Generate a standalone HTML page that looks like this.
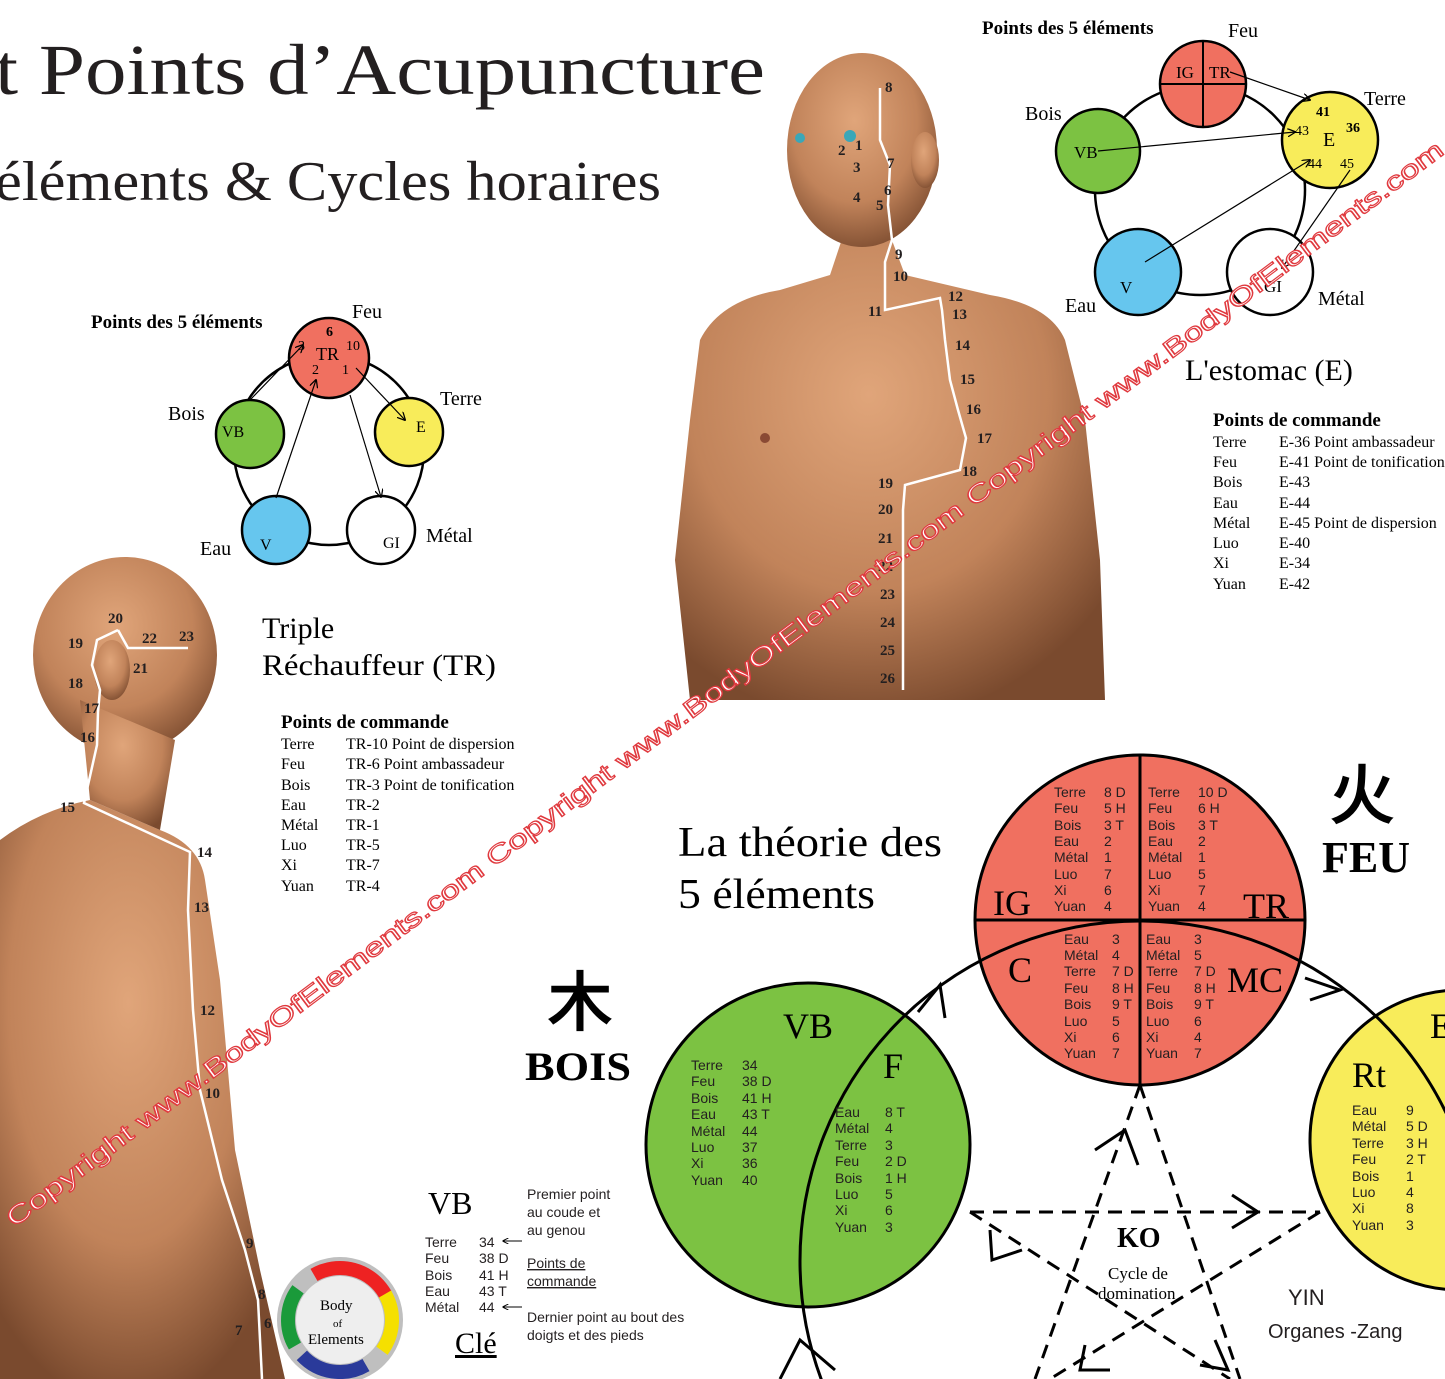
<!DOCTYPE html>
<html><head><meta charset="utf-8"><style>
html,body{margin:0;background:#fff;overflow:hidden;width:1445px;height:1379px}
svg{display:block}
.s{font-family:"Liberation Serif",serif}
.a{font-family:"Liberation Sans",sans-serif}
</style></head><body>
<svg width="1445" height="1379" viewBox="0 0 1445 1379" xmlns="http://www.w3.org/2000/svg">
<defs>
<radialGradient id="skin" cx="45%" cy="35%" r="70%"><stop offset="0" stop-color="#e0a57a"/><stop offset="0.6" stop-color="#c1835a"/><stop offset="1" stop-color="#7a4a2e"/></radialGradient>
<marker id="ar" viewBox="0 0 10 10" refX="9" refY="5" markerWidth="7" markerHeight="7" orient="auto"><path d="M0,0L10,5L0,10" fill="none" stroke="#000" stroke-width="1.5"/></marker>
<marker id="arb" viewBox="0 0 10 10" refX="9" refY="5" markerWidth="6" markerHeight="6" orient="auto"><path d="M0,0L10,5L0,10" fill="none" stroke="#000" stroke-width="1.6"/></marker>
<clipPath id="pg"><rect width="1445" height="1379"/></clipPath>
</defs>
<g clip-path="url(#pg)">
<rect width="1445" height="1379" fill="#fff"/>

<text class="s" x="-5" y="94" font-size="72" fill="#231f20" textLength="770" lengthAdjust="spacingAndGlyphs">t Points d’Acupuncture</text>
<text class="s" x="-5" y="200" font-size="56" fill="#231f20" textLength="666" lengthAdjust="spacingAndGlyphs">éléments &amp; Cycles horaires</text>

<g fill="url(#skin)">
<path d="M690,700 L675,560 L690,420 L700,340 Q720,300 780,290 L830,275 L845,230 L890,235 L905,275 L990,295 Q1050,305 1065,340 L1085,420 L1100,560 L1105,700 Z"/>
<ellipse cx="862" cy="150" rx="75" ry="97"/>
<ellipse cx="925" cy="160" rx="14" ry="28"/>
</g>
<circle cx="765" cy="438" r="5" fill="#8a4a34"/>
<circle cx="850" cy="136" r="6" fill="#3aa7b8"/><circle cx="800" cy="138" r="5" fill="#3aa7b8"/>
<polyline points="880,88 880,140 890,165 888,205 892,240 885,262 885,310 940,298 942,310 945,340 950,380 958,410 966,438 960,470 905,485 903,510 903,690" fill="none" stroke="#fff" stroke-width="2.5"/>
<g class="s" font-size="15" font-weight="bold" fill="#231f20">
<text x="885" y="92">8</text><text x="855" y="150">1</text><text x="838" y="155">2</text><text x="853" y="172">3</text><text x="853" y="202">4</text><text x="876" y="210">5</text><text x="884" y="195">6</text><text x="887" y="168">7</text>
<text x="895" y="259">9</text><text x="893" y="281">10</text><text x="868" y="316">11</text><text x="948" y="301">12</text><text x="952" y="319">13</text><text x="955" y="350">14</text><text x="960" y="384">15</text><text x="966" y="414">16</text><text x="977" y="443">17</text><text x="962" y="476">18</text>
<text x="878" y="488">19</text><text x="878" y="514">20</text><text x="878" y="543">21</text><text x="878" y="571">22</text><text x="880" y="599">23</text><text x="880" y="627">24</text><text x="880" y="655">25</text><text x="880" y="683">26</text>
</g>

<g fill="url(#skin)">
<path d="M0,840 Q40,810 90,800 L160,830 Q200,845 205,880 L220,980 L235,1150 L260,1270 L285,1379 L0,1379 Z"/>
<ellipse cx="125" cy="655" rx="92" ry="98"/>
<path d="M80,700 L90,800 L160,830 L175,740 Z"/>
<ellipse cx="112" cy="670" rx="18" ry="30"/>
</g>
<polyline points="118,630 97,640 92,665 100,690 98,712 97,745 84,803 190,852 188,910 193,1010 200,1090 222,1180 245,1250 258,1300 262,1379" fill="none" stroke="#fff" stroke-width="2.5"/>
<polyline points="118,630 128,648 148,648 188,648" fill="none" stroke="#fff" stroke-width="2.5"/>
<g class="s" font-size="15" font-weight="bold" fill="#231f20">
<text x="108" y="623">20</text><text x="68" y="648">19</text><text x="142" y="643">22</text><text x="179" y="641">23</text><text x="133" y="673">21</text><text x="68" y="688">18</text><text x="84" y="713">17</text><text x="80" y="742">16</text><text x="60" y="812">15</text>
<text x="197" y="857">14</text><text x="194" y="912">13</text><text x="200" y="1015">12</text><text x="205" y="1098">10</text><text x="246" y="1248">9</text><text x="258" y="1299">8</text><text x="235" y="1335">7</text><text x="264" y="1328">6</text>
</g>

<text class="s" x="91" y="328" font-size="19" font-weight="bold">Points des 5 éléments</text>
<circle cx="329" cy="450" r="95" fill="none" stroke="#000" stroke-width="2.5"/>
<g stroke="#000" stroke-width="2.5">
<circle cx="329" cy="358" r="40" fill="#f07060"/>
<circle cx="250" cy="434" r="34" fill="#7cc242"/>
<circle cx="409" cy="432" r="34" fill="#f8ec5a"/>
<circle cx="276" cy="530" r="34" fill="#66c6ee"/>
<circle cx="381" cy="530" r="34" fill="#fff"/>
</g>
<g stroke="#000" stroke-width="1.2" marker-end="url(#ar)">
<line x1="250" y1="400" x2="303" y2="345"/><line x1="356" y1="368" x2="405" y2="420"/><line x1="276" y1="498" x2="316" y2="380"/><line x1="350" y1="395" x2="381" y2="497"/>
</g>
<g class="s" font-size="20"><text x="352" y="318">Feu</text><text x="440" y="405">Terre</text><text x="168" y="420">Bois</text><text x="200" y="555">Eau</text><text x="426" y="542">Métal</text></g>
<g class="s" font-size="16"><text x="316" y="360" font-size="18">TR</text><text x="326" y="336" font-weight="bold" font-size="14">6</text><text x="298" y="350" font-size="14">3</text><text x="346" y="350" font-size="14">10</text><text x="312" y="374" font-size="14">2</text><text x="342" y="374" font-size="14">1</text><text x="222" y="437">VB</text><text x="416" y="432">E</text><text x="260" y="550">V</text><text x="383" y="548">GI</text></g>

<text class="s" x="262" y="638" font-size="30">Triple</text>
<text class="s" x="262" y="675" font-size="30" textLength="234" lengthAdjust="spacingAndGlyphs">Réchauffeur (TR)</text>
<text class="s" x="281" y="728" font-size="19" font-weight="bold">Points de commande</text>
<g class="s" font-size="16">
<text x="281" y="749">Terre</text><text x="346" y="749">TR-10 Point de dispersion</text>
<text x="281" y="769">Feu</text><text x="346" y="769">TR-6   Point ambassadeur</text>
<text x="281" y="790">Bois</text><text x="346" y="790">TR-3   Point de tonification</text>
<text x="281" y="810">Eau</text><text x="346" y="810">TR-2</text>
<text x="281" y="830">Métal</text><text x="346" y="830">TR-1</text>
<text x="281" y="850">Luo</text><text x="346" y="850">TR-5</text>
<text x="281" y="870">Xi</text><text x="346" y="870">TR-7</text>
<text x="281" y="891">Yuan</text><text x="346" y="891">TR-4</text>
</g>

<text class="s" x="982" y="34" font-size="19" font-weight="bold">Points des 5 éléments</text>
<circle cx="1200" cy="190" r="105" fill="none" stroke="#000" stroke-width="2.5"/>
<g stroke="#000" stroke-width="2.5">
<circle cx="1203" cy="84" r="43" fill="#f07060"/>
<circle cx="1098" cy="151" r="42" fill="#7cc242"/>
<circle cx="1330" cy="140" r="48" fill="#f8ec5a"/>
<circle cx="1138" cy="272" r="43" fill="#66c6ee"/>
<circle cx="1270" cy="272" r="43" fill="#fff"/>
</g>
<line x1="1203" y1="41" x2="1203" y2="127" stroke="#000" stroke-width="2"/><line x1="1160" y1="84" x2="1246" y2="84" stroke="#000" stroke-width="2"/>
<g stroke="#000" stroke-width="1.2" marker-end="url(#ar)">
<line x1="1230" y1="72" x2="1310" y2="100"/><line x1="1098" y1="151" x2="1295" y2="132"/><line x1="1145" y1="262" x2="1310" y2="160"/><line x1="1350" y1="170" x2="1282" y2="268"/>
</g>
<g class="s" font-size="20"><text x="1228" y="37">Feu</text><text x="1364" y="105">Terre</text><text x="1025" y="120">Bois</text><text x="1065" y="312">Eau</text><text x="1318" y="305">Métal</text></g>
<g class="s" font-size="17"><text x="1176" y="78">IG</text><text x="1209" y="78">TR</text><text x="1074" y="158">VB</text><text x="1323" y="146" font-size="20">E</text><text x="1316" y="116" font-size="14" font-weight="bold">41</text><text x="1295" y="135" font-size="14">43</text><text x="1346" y="132" font-size="14" font-weight="bold">36</text><text x="1308" y="168" font-size="14">44</text><text x="1340" y="168" font-size="14">45</text><text x="1120" y="293">V</text><text x="1264" y="292">GI</text></g>

<text class="s" x="1185" y="380" font-size="30">L'estomac (E)</text>
<text class="s" x="1213" y="426" font-size="19" font-weight="bold">Points de commande</text>
<g class="s" font-size="16">
<text x="1213" y="447">Terre</text><text x="1279" y="447">E-36 Point ambassadeur</text>
<text x="1213" y="467">Feu</text><text x="1279" y="467">E-41 Point de tonification</text>
<text x="1213" y="487">Bois</text><text x="1279" y="487">E-43</text>
<text x="1213" y="508">Eau</text><text x="1279" y="508">E-44</text>
<text x="1213" y="528">Métal</text><text x="1279" y="528">E-45 Point de dispersion</text>
<text x="1213" y="548">Luo</text><text x="1279" y="548">E-40</text>
<text x="1213" y="568">Xi</text><text x="1279" y="568">E-34</text>
<text x="1213" y="589">Yuan</text><text x="1279" y="589">E-42</text>
</g>

<text class="s" x="678" y="856" font-size="42" textLength="264" lengthAdjust="spacingAndGlyphs">La théorie des</text>
<text class="s" x="678" y="908" font-size="42" textLength="197" lengthAdjust="spacingAndGlyphs">5 éléments</text>
<text class="s" x="1330" y="818" font-size="64" font-weight="bold">火</text>
<text class="s" x="1322" y="872" font-size="44" font-weight="bold">FEU</text>
<text class="s" x="548" y="1025" font-size="64" font-weight="bold">木</text>
<text class="s" x="525" y="1080" font-size="40" font-weight="bold" textLength="106" lengthAdjust="spacingAndGlyphs">BOIS</text>

<g stroke="#000" stroke-width="3">
<circle cx="1140" cy="920" r="165" fill="#f07060"/>
<circle cx="808" cy="1145" r="162" fill="#7cc242"/>
<circle cx="1460" cy="1140" r="150" fill="#f8ec5a"/>
</g>
<line x1="1140" y1="755" x2="1140" y2="1085" stroke="#000" stroke-width="3"/>
<line x1="975" y1="920" x2="1305" y2="920" stroke="#000" stroke-width="3"/>
<circle cx="1140" cy="1261" r="340" fill="none" stroke="#000" stroke-width="3"/>
<g fill="none" stroke="#000" stroke-width="3">
<path d="M918,1012 L940,985 L945,1018"/><path d="M1305,978 L1340,990 L1310,1000"/><path d="M780,1379 L800,1340 L835,1370"/>
</g>
<g stroke="#000" stroke-width="3" stroke-dasharray="14,9" fill="none">
<line x1="970" y1="1212" x2="1320" y2="1212"/>
<line x1="1140" y1="1085" x2="1035" y2="1379"/><line x1="1140" y1="1085" x2="1240" y2="1379"/>
<line x1="970" y1="1212" x2="1230" y2="1379"/><line x1="1320" y1="1212" x2="1050" y2="1379"/>
</g>
<g fill="none" stroke="#000" stroke-width="3"><path d="M1095,1150 L1125,1130 L1138,1165"/><path d="M1232,1195 L1258,1212 L1232,1228"/><path d="M990,1230 L992,1260 L1022,1250"/><path d="M1215,1340 L1228,1370 L1200,1365"/><path d="M1085,1345 L1080,1370 L1110,1370"/></g>
<text class="s" x="1117" y="1247" font-size="28" font-weight="bold">KO</text>
<text class="s" x="1108" y="1279" font-size="17">Cycle de</text>
<text class="s" x="1098" y="1299" font-size="17">domination</text>
<text class="a" x="1288" y="1305" font-size="22" fill="#231f20">YIN</text>
<text class="a" x="1268" y="1338" font-size="20" fill="#231f20">Organes -Zang</text>

<g class="s" font-size="36"><text x="993" y="915">IG</text><text x="1243" y="918">TR</text><text x="1008" y="982">C</text><text x="1227" y="992">MC</text><text x="783" y="1038">VB</text><text x="883" y="1078">F</text><text x="1352" y="1087">Rt</text><text x="1430" y="1038">E</text></g>
<g class="a" font-size="14" fill="#231f20">
<text x="1054" y="797">Terre</text><text x="1104" y="797">8 D</text><text x="1054" y="813">Feu</text><text x="1104" y="813">5 H</text><text x="1054" y="830">Bois</text><text x="1104" y="830">3 T</text><text x="1054" y="846">Eau</text><text x="1104" y="846">2</text><text x="1054" y="862">Métal</text><text x="1104" y="862">1</text><text x="1054" y="879">Luo</text><text x="1104" y="879">7</text><text x="1054" y="895">Xi</text><text x="1104" y="895">6</text><text x="1054" y="911">Yuan</text><text x="1104" y="911">4</text>
<text x="1148" y="797">Terre</text><text x="1198" y="797">10 D</text><text x="1148" y="813">Feu</text><text x="1198" y="813">6  H</text><text x="1148" y="830">Bois</text><text x="1198" y="830">3  T</text><text x="1148" y="846">Eau</text><text x="1198" y="846">2</text><text x="1148" y="862">Métal</text><text x="1198" y="862">1</text><text x="1148" y="879">Luo</text><text x="1198" y="879">5</text><text x="1148" y="895">Xi</text><text x="1198" y="895">7</text><text x="1148" y="911">Yuan</text><text x="1198" y="911">4</text>
<text x="1064" y="944">Eau</text><text x="1112" y="944">3</text><text x="1064" y="960">Métal</text><text x="1112" y="960">4</text><text x="1064" y="976">Terre</text><text x="1112" y="976">7 D</text><text x="1064" y="993">Feu</text><text x="1112" y="993">8 H</text><text x="1064" y="1009">Bois</text><text x="1112" y="1009">9 T</text><text x="1064" y="1026">Luo</text><text x="1112" y="1026">5</text><text x="1064" y="1042">Xi</text><text x="1112" y="1042">6</text><text x="1064" y="1058">Yuan</text><text x="1112" y="1058">7</text>
<text x="1146" y="944">Eau</text><text x="1194" y="944">3</text><text x="1146" y="960">Métal</text><text x="1194" y="960">5</text><text x="1146" y="976">Terre</text><text x="1194" y="976">7 D</text><text x="1146" y="993">Feu</text><text x="1194" y="993">8 H</text><text x="1146" y="1009">Bois</text><text x="1194" y="1009">9 T</text><text x="1146" y="1026">Luo</text><text x="1194" y="1026">6</text><text x="1146" y="1042">Xi</text><text x="1194" y="1042">4</text><text x="1146" y="1058">Yuan</text><text x="1194" y="1058">7</text>
<text x="691" y="1070">Terre</text><text x="742" y="1070">34</text><text x="691" y="1086">Feu</text><text x="742" y="1086">38  D</text><text x="691" y="1103">Bois</text><text x="742" y="1103">41  H</text><text x="691" y="1119">Eau</text><text x="742" y="1119">43  T</text><text x="691" y="1136">Métal</text><text x="742" y="1136">44</text><text x="691" y="1152">Luo</text><text x="742" y="1152">37</text><text x="691" y="1168">Xi</text><text x="742" y="1168">36</text><text x="691" y="1185">Yuan</text><text x="742" y="1185">40</text>
<text x="835" y="1117">Eau</text><text x="885" y="1117">8 T</text><text x="835" y="1133">Métal</text><text x="885" y="1133">4</text><text x="835" y="1150">Terre</text><text x="885" y="1150">3</text><text x="835" y="1166">Feu</text><text x="885" y="1166">2 D</text><text x="835" y="1183">Bois</text><text x="885" y="1183">1 H</text><text x="835" y="1199">Luo</text><text x="885" y="1199">5</text><text x="835" y="1215">Xi</text><text x="885" y="1215">6</text><text x="835" y="1232">Yuan</text><text x="885" y="1232">3</text>
<text x="1352" y="1115">Eau</text><text x="1406" y="1115">9</text><text x="1352" y="1131">Métal</text><text x="1406" y="1131">5 D</text><text x="1352" y="1148">Terre</text><text x="1406" y="1148">3 H</text><text x="1352" y="1164">Feu</text><text x="1406" y="1164">2 T</text><text x="1352" y="1181">Bois</text><text x="1406" y="1181">1</text><text x="1352" y="1197">Luo</text><text x="1406" y="1197">4</text><text x="1352" y="1213">Xi</text><text x="1406" y="1213">8</text><text x="1352" y="1230">Yuan</text><text x="1406" y="1230">3</text>
</g>

<text class="s" x="428" y="1214" font-size="32">VB</text>
<g class="a" font-size="14" fill="#231f20">
<text x="425" y="1247">Terre</text><text x="479" y="1247">34</text>
<text x="425" y="1263">Feu</text><text x="479" y="1263">38  D</text>
<text x="425" y="1280">Bois</text><text x="479" y="1280">41  H</text>
<text x="425" y="1296">Eau</text><text x="479" y="1296">43  T</text>
<text x="425" y="1312">Métal</text><text x="479" y="1312">44</text>
<text x="527" y="1199">Premier point</text><text x="527" y="1217">au coude et</text><text x="527" y="1235">au genou</text>
<text x="527" y="1268" text-decoration="underline">Points de</text><text x="527" y="1286" text-decoration="underline">commande</text>
<text x="527" y="1322">Dernier point au bout des</text><text x="527" y="1340">doigts et des pieds</text>
</g>
<g stroke="#000" stroke-width="1" marker-end="url(#arb)"><line x1="522" y1="1241" x2="503" y2="1241"/><line x1="522" y1="1307" x2="503" y2="1307"/></g>
<text class="s" x="455" y="1353" font-size="30" text-decoration="underline">Clé</text>

<circle cx="340" cy="1320" r="63" fill="#bfbfbf"/>
<circle cx="340" cy="1320" r="52" fill="none" stroke="#e22" stroke-width="14" stroke-dasharray="82 245" transform="rotate(-120 340 1320)"/>
<circle cx="340" cy="1320" r="52" fill="none" stroke="#f5e000" stroke-width="14" stroke-dasharray="60 267" transform="rotate(-30 340 1320)"/>
<circle cx="340" cy="1320" r="52" fill="none" stroke="#2a3a9a" stroke-width="14" stroke-dasharray="70 257" transform="rotate(60 340 1320)"/>
<circle cx="340" cy="1320" r="52" fill="none" stroke="#1a9a3a" stroke-width="14" stroke-dasharray="60 267" transform="rotate(150 340 1320)"/>
<circle cx="340" cy="1320" r="44" fill="#eee"/>
<text class="s" x="320" y="1310" font-size="15">Body</text><text class="s" x="333" y="1327" font-size="11">of</text><text class="s" x="308" y="1344" font-size="15">Elements</text>

<text class="a" font-size="25" fill="#fff" stroke="#e0393e" stroke-width="1.2" transform="translate(14,1228) rotate(-36.9)" textLength="1790" lengthAdjust="spacingAndGlyphs">Copyright www.BodyOfElements.com Copyright www.BodyOfElements.com Copyright www.BodyOfElements.com</text>
</g>
</svg>
</body></html>
